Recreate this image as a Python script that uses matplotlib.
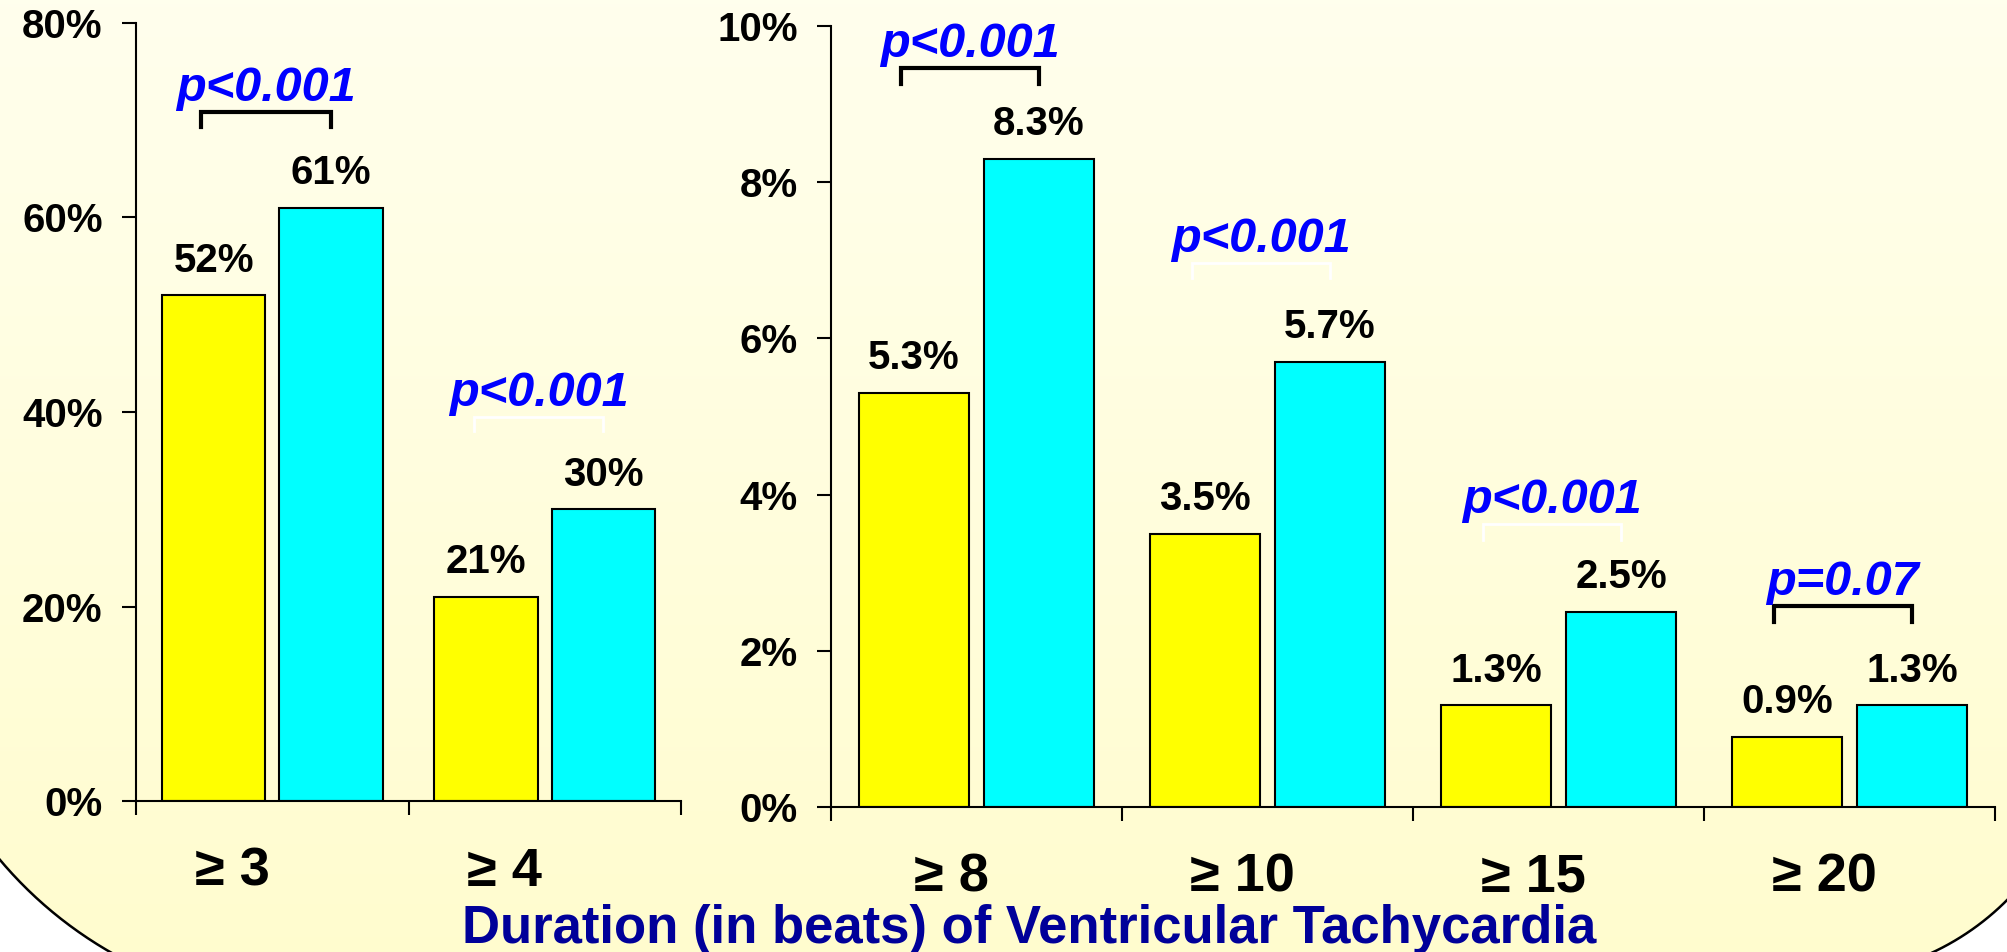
import numpy as np
import matplotlib.pyplot as plt
from matplotlib.patches import Polygon
from matplotlib.transforms import ScaledTranslation

plt.rcParams['font.family'] = ['Liberation Sans', 'DejaVu Sans']
plt.rcParams['font.weight'] = 'bold'

# ============================================
# Data
# ============================================
left_cats = ['≥ 3', '≥ 4']
left_yellow = [52, 21]
left_cyan = [61, 30]
left_pvals = ['p<0.001', 'p<0.001']
left_bracket = [70.8, 39.5]
left_bracket_color = ['black', 'white']

right_cats = ['≥ 8', '≥ 10', '≥ 15', '≥ 20']
right_yellow = [5.3, 3.5, 1.3, 0.9]
right_cyan = [8.3, 5.7, 2.5, 1.3]
right_pvals = ['p<0.001', 'p<0.001', 'p<0.001', 'p=0.07']
right_bracket = [9.46, 6.97, 3.62, 2.57]
right_bracket_color = ['black', 'white', 'white', 'black']

title = 'Duration (in beats) of Ventricular Tachycardia'

# ============================================
# Figure and slide-like background
# ============================================
W, H = 2007, 952
fig = plt.figure(figsize=(W / 100, H / 100), dpi=100, facecolor='white')

bg = fig.add_axes([0, 0, 1, 1], zorder=-10)
bg.set_xlim(0, W)
bg.set_ylim(0, H)
bg.axis('off')

# rounded box outline (bottom corners visible)
t1 = np.linspace(np.pi, 1.5 * np.pi, 60)
t2 = np.linspace(1.5 * np.pi, 2 * np.pi, 60)
left_arc = np.column_stack([316 + 413 * np.cos(t1), 358 + 413 * np.sin(t1)])
right_arc = np.column_stack([1822 + 261 * np.cos(t2), 236 + 261 * np.sin(t2)])
outline = np.vstack([[[-97, 1300]], left_arc, right_arc, [[2083, 1300]]])
box = Polygon(outline, closed=True, facecolor='none', edgecolor='black', lw=1.8)
bg.add_patch(box)

grad = np.linspace(0, 1, 256)[:, None]
top_col = np.array([1.0, 1.0, 0.93])
bot_col = np.array([1.0, 0.99, 0.81])
img = top_col * (1 - grad[..., None]) + bot_col * grad[..., None]
im = bg.imshow(img, extent=[0, W, 0, H], aspect='auto', origin='upper', zorder=0)
im.set_clip_path(box)

# ============================================
# Panels
# ============================================
width = 0.38
off = 0.215


def draw_panel(ax, cats, yellow, cyan, pvals, brk, brk_col, ymax, ystep,
               fmt, brk_h, shift_pt):
    x = np.arange(len(cats))
    ax.set_facecolor('none')
    ax.bar(x - off, yellow, width, color='#FFFF00', edgecolor='black', lw=1.5, zorder=2)
    ax.bar(x + off, cyan, width, color='#00FFFF', edgecolor='black', lw=1.5, zorder=2)

    for xi, yv, cv in zip(x, yellow, cyan):
        ax.annotate(fmt(yv), (xi - off, yv), xytext=(0, 17), textcoords='offset points',
                    ha='center', va='baseline', fontsize=29, fontweight='bold')
        ax.annotate(fmt(cv), (xi + off, cv), xytext=(0, 17), textcoords='offset points',
                    ha='center', va='baseline', fontsize=29, fontweight='bold')

    for xi, p, b, c in zip(x, pvals, brk, brk_col):
        x0 = xi - off - 0.046
        x1 = xi + off
        ax.plot([x0, x0, x1, x1], [b - brk_h, b, b, b - brk_h], color=c,
                lw=3 if c == 'black' else 2, solid_joinstyle='miter', zorder=3)
        ax.annotate(p, ((x0 + x1) / 2, b), xytext=(0, 8), textcoords='offset points',
                    ha='center', va='baseline', fontsize=35, fontweight='bold',
                    style='italic', color='#0000FF')

    ax.set_xlim(-0.5, len(cats) - 0.5)
    ax.set_ylim(0, ymax)
    ax.set_yticks(np.arange(0, ymax + ystep / 2, ystep))
    ax.set_yticklabels([f'{v:.0f}%' for v in np.arange(0, ymax + ystep / 2, ystep)])
    ax.set_xticks(np.arange(len(cats) + 1) - 0.5)
    ax.set_xticklabels([])
    ax.set_xticks(x, cats, minor=True)

    for s in ['top', 'right']:
        ax.spines[s].set_visible(False)
    for s in ['left', 'bottom']:
        ax.spines[s].set_linewidth(1.5)

    ax.tick_params(axis='y', which='major', length=10, width=1.5, pad=14, labelsize=29)
    ax.tick_params(axis='x', which='major', length=10, width=1.5, direction='out')
    ax.tick_params(axis='x', which='minor', length=0, pad=33, labelsize=39)
    shift = ScaledTranslation(shift_pt / 72, 0, fig.dpi_scale_trans)
    for lab in ax.get_xticklabels(minor=True):
        lab.set_transform(lab.get_transform() + shift)


ax1 = fig.add_axes([136 / W, 151 / H, (681 - 136) / W, (929 - 151) / H])
draw_panel(ax1, left_cats, left_yellow, left_cyan, left_pvals, left_bracket,
           left_bracket_color, 80, 20, lambda v: f'{v:g}%', 1.5, -29)

ax2 = fig.add_axes([831 / W, 145 / H, (1995 - 831) / W, (926 - 145) / H])
draw_panel(ax2, right_cats, right_yellow, right_cyan, right_pvals, right_bracket,
           right_bracket_color, 10, 2, lambda v: f'{v:.1f}%', 0.2, -18)

fig.text(1029 / W, 9 / H, title, ha='center', va='baseline', fontsize=38,
         fontweight='bold', color='#000099')

plt.savefig('out.png', dpi=100, facecolor='white')
